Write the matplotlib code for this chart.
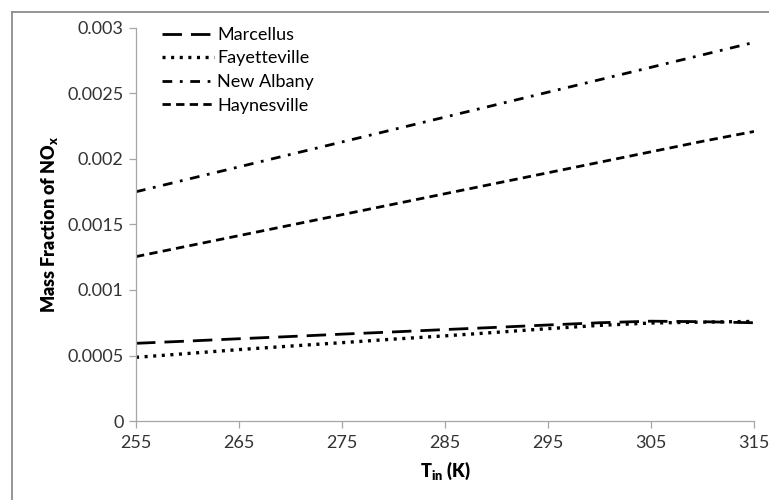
import numpy as np
import matplotlib
matplotlib.use('Agg')
import matplotlib.pyplot as plt
from matplotlib.lines import Line2D

# Dados
temps = [255, 260, 265, 270, 275, 280, 285, 290, 295, 300, 305, 310, 315]
marcellus = [0.000593, 0.00061, 0.000628, 0.000645, 0.000663, 0.00068, 0.000698,
             0.000715, 0.000733, 0.00075, 0.000762, 0.000758, 0.00075]
fayetteville = [0.000486, 0.000515, 0.000545, 0.000572, 0.000598, 0.000625, 0.00065,
                0.000677, 0.000705, 0.00073, 0.000748, 0.000755, 0.00076]
new_albany = [0.00175, 0.001845, 0.00194, 0.002035, 0.00213, 0.002225, 0.00232,
              0.002415, 0.00251, 0.002605, 0.0027, 0.002795, 0.00289]
haynesville = [0.001255, 0.001335, 0.001415, 0.001495, 0.001575, 0.001655, 0.001735,
               0.001815, 0.001895, 0.001975, 0.002055, 0.002135, 0.00221]

x_ticks = [255, 265, 275, 285, 295, 305, 315]
y_ticks = [0, 0.0005, 0.001, 0.0015, 0.002, 0.0025, 0.003]
y_tick_labels = ['0', '0.0005', '0.001', '0.0015', '0.002', '0.0025', '0.003']

plt.rcParams['font.family'] = ['Lato', 'DejaVu Sans']
plt.rcParams['mathtext.default'] = 'regular'
plt.rcParams['lines.scale_dashes'] = False

fig = plt.figure(figsize=(7.69, 5.0), dpi=100)
ax = fig.add_axes([136 / 769, 1 - 421 / 500, 618 / 769, 393 / 500])

ax.plot(temps, marcellus, color='black', lw=2.0, dashes=(14.0, 6.5), label='Marcellus')
ax.plot(temps, fayetteville, color='black', lw=2.4, dashes=(2.2, 4.0), label='Fayetteville')
ax.plot(temps, new_albany, color='black', lw=2.0, dashes=(7.0, 5.5, 2.0, 5.5), label='New Albany')
ax.plot(temps, haynesville, color='black', lw=2.0, dashes=(6.0, 3.8), label='Haynesville')

ax.set_xlim(255, 315)
ax.set_ylim(0, 0.003)
ax.set_xticks(x_ticks)
ax.set_yticks(y_ticks)
ax.set_yticklabels(y_tick_labels)

for s in ['top', 'right']:
    ax.spines[s].set_visible(False)
for s in ['left', 'bottom']:
    ax.spines[s].set_color('#a6a6a6')
    ax.spines[s].set_linewidth(0.9)
ax.tick_params(colors='#a6a6a6', labelcolor='#333333', length=5, width=0.9,
               labelsize=13, direction='out')
ax.tick_params(axis='x', pad=5)
ax.tick_params(axis='y', pad=4)

ax.set_xlabel('T$_{in}$ (K)', fontsize=13, fontweight='heavy', labelpad=6)
ax.set_ylabel('Mass Fraction of NO$_{x}$', fontsize=13, fontweight='heavy', labelpad=5)

ax.legend(loc='upper left', bbox_to_anchor=(0.042, 1.003), frameon=False,
          fontsize=13, handlelength=2.9, handletextpad=0.15, labelspacing=0.42,
          borderpad=0, borderaxespad=0)

# moldura externa (cortada à direita e embaixo)
fig.add_artist(Line2D([12 / 769, 12 / 769], [0, 1 - 12 / 500], transform=fig.transFigure,
                      color='#8c8c8c', lw=1.3))
fig.add_artist(Line2D([12 / 769, 1], [1 - 12 / 500, 1 - 12 / 500], transform=fig.transFigure,
                      color='#8c8c8c', lw=1.3))

fig.savefig('out.png', dpi=100)
